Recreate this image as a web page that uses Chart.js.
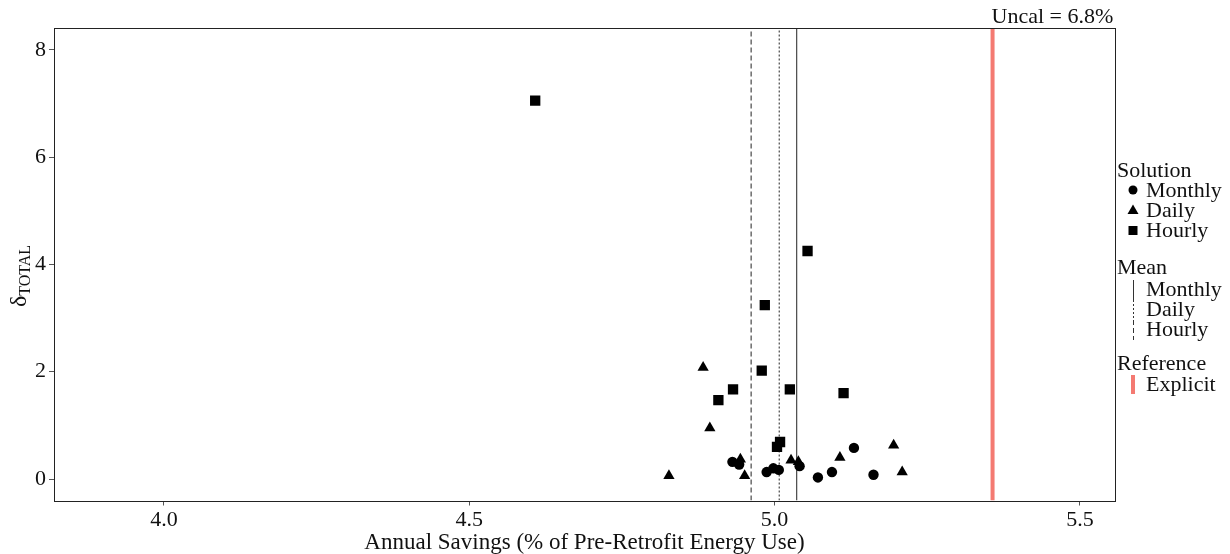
<!DOCTYPE html>
<html>
<head>
<meta charset="utf-8">
<script src="https://cdn.jsdelivr.net/npm/chart.js@4.4.1/dist/chart.umd.min.js"></script>
<style>
  html, body { margin: 0; padding: 0; background: #ffffff; }
  #wrap { width: 1230px; height: 554px; position: relative; }
</style>
</head>
<body>
<div id="wrap"><canvas id="c" width="1230" height="554"></canvas></div>
<script>
// Tick positions
const xTicks = [4.0, 4.5, 5.0, 5.5];
const yTicks = [0, 2, 4, 6, 8];

// Monthly solution: annual savings (%) and delta_TOTAL
const monthlyX = [4.931, 4.942, 4.987, 4.998, 5.007, 5.041, 5.071, 5.094, 5.130, 5.162];
const monthlyY = [0.32, 0.27, 0.13, 0.20, 0.17, 0.24, 0.03, 0.13, 0.58, 0.08];

// Daily solution
const dailyX = [4.827, 4.883, 4.894, 4.944, 4.951, 5.027, 5.039, 5.107, 5.195, 5.209];
const dailyY = [0.06, 2.08, 0.95, 0.37, 0.06, 0.35, 0.32, 0.40, 0.63, 0.13];

// Hourly solution
const hourlyX = [4.608, 5.054, 4.984, 4.979, 4.932, 5.025, 5.113, 4.908, 5.009, 5.004];
const hourlyY = [7.05, 4.25, 3.24, 2.02, 1.67, 1.67, 1.60, 1.47, 0.69, 0.60];

// Reference savings from the explicit model, and the uncalibrated value
const explicitSavings = 5.357;
const uncalText = 'Uncal = 6.8%';

// Axis limits
const xMin = 3.82, xMax = 5.5575;
const yMin = -0.4, yMax = 8.405;

const SERIF = '"Liberation Serif", "Times New Roman", serif';
const RED = '#f47a72';

const mean = a => a.reduce((s, v) => s + v, 0) / a.length;
const toPts = (xs, ys) => xs.map((x, i) => ({ x: x, y: ys[i] }));
const vLine = x => [{ x: x, y: yMin }, { x: x, y: yMax }];

const datasets = [
  { label: 'Monthly', data: toPts(monthlyX, monthlyY), pointStyle: 'circle', pointRadius: 5.2,
    backgroundColor: '#000', borderColor: '#000', borderWidth: 0, order: 1 },
  { label: 'Daily', data: toPts(dailyX, dailyY), pointStyle: 'triangle', pointRadius: 6.5,
    backgroundColor: '#000', borderColor: '#000', borderWidth: 0, order: 1 },
  { label: 'Hourly', data: toPts(hourlyX, hourlyY), pointStyle: 'rect', pointRadius: 7.3,
    backgroundColor: '#000', borderColor: '#000', borderWidth: 0, order: 1 },
  { label: 'Mean Monthly', data: vLine(mean(monthlyX)), showLine: true, pointRadius: 0,
    borderColor: '#222', borderWidth: 1, order: 2 },
  { label: 'Mean Daily', data: vLine(mean(dailyX)), showLine: true, pointRadius: 0,
    borderColor: '#222', borderWidth: 1, borderDash: [2, 2], order: 2 },
  { label: 'Mean Hourly', data: vLine(mean(hourlyX)), showLine: true, pointRadius: 0,
    borderColor: '#222', borderWidth: 1, borderDash: [5, 3], order: 2 },
  { label: 'Explicit', data: vLine(explicitSavings), showLine: true, pointRadius: 0,
    borderColor: RED, borderWidth: 4, order: 2 }
];

// Frame, axis titles, annotation and legend
const decor = {
  id: 'decor',
  afterDraw(chart) {
    const { ctx, chartArea: a } = chart;
    ctx.save();
    ctx.strokeStyle = '#222';
    ctx.lineWidth = 1;
    ctx.strokeRect(Math.round(a.left) + 0.5, Math.round(a.top) + 0.5,
                   Math.round(a.right - a.left), Math.round(a.bottom - a.top));

    ctx.fillStyle = '#111';
    // x axis title
    ctx.font = '23px ' + SERIF;
    ctx.textAlign = 'center';
    ctx.textBaseline = 'middle';
    ctx.fillText('Annual Savings (% of Pre-Retrofit Energy Use)', (a.left + a.right) / 2, 543);

    // y axis title: delta with TOTAL subscript
    ctx.save();
    ctx.translate(21, 276);
    ctx.rotate(-Math.PI / 2);
    ctx.textAlign = 'left';
    ctx.textBaseline = 'alphabetic';
    ctx.font = '24px ' + SERIF;
    const dW = ctx.measureText('\u03b4').width;
    ctx.font = '16px ' + SERIF;
    const sW = ctx.measureText('TOTAL').width;
    const x0 = -(dW + sW) / 2;
    ctx.font = '24px ' + SERIF;
    ctx.fillText('\u03b4', x0, 5);
    ctx.font = '16px ' + SERIF;
    ctx.fillText('TOTAL', x0 + dW, 9);
    ctx.restore();

    // annotation above the reference line
    const xs = chart.scales.x;
    ctx.font = '22px ' + SERIF;
    ctx.textAlign = 'left';
    ctx.textBaseline = 'alphabetic';
    ctx.fillText(uncalText, xs.getPixelForValue(explicitSavings) - 1, a.top - 5);

    // legend
    const tx = 1117, kx = 1133, lx = 1146;
    ctx.textBaseline = 'middle';
    ctx.font = '22px ' + SERIF;
    ctx.fillText('Solution', tx, 171);
    ctx.fillText('Monthly', lx, 191);
    ctx.fillText('Daily', lx, 211);
    ctx.fillText('Hourly', lx, 231);
    ctx.fillText('Mean', tx, 268);
    ctx.fillText('Monthly', lx, 290);
    ctx.fillText('Daily', lx, 310);
    ctx.fillText('Hourly', lx, 330);
    ctx.fillText('Reference', tx, 364);
    ctx.fillText('Explicit', lx, 385);

    ctx.fillStyle = '#000';
    ctx.beginPath(); ctx.arc(kx, 190, 4.5, 0, Math.PI * 2); ctx.fill();
    ctx.beginPath(); ctx.moveTo(kx, 204.5); ctx.lineTo(kx + 5.5, 214); ctx.lineTo(kx - 5.5, 214); ctx.closePath(); ctx.fill();
    ctx.fillRect(kx - 4.5, 226, 9, 9);

    ctx.strokeStyle = '#333';
    ctx.lineWidth = 1;
    ctx.beginPath(); ctx.moveTo(kx + 0.5, 280); ctx.lineTo(kx + 0.5, 300); ctx.stroke();
    ctx.setLineDash([2, 2]);
    ctx.beginPath(); ctx.moveTo(kx + 0.5, 300); ctx.lineTo(kx + 0.5, 320); ctx.stroke();
    ctx.setLineDash([5, 3]);
    ctx.beginPath(); ctx.moveTo(kx + 0.5, 320); ctx.lineTo(kx + 0.5, 340); ctx.stroke();
    ctx.setLineDash([]);

    ctx.fillStyle = RED;
    ctx.fillRect(kx - 2, 375, 4, 19);
    ctx.restore();
  }
};

new Chart(document.getElementById('c'), {
  type: 'scatter',
  data: { datasets: datasets },
  plugins: [decor],
  options: {
    responsive: false,
    animation: false,
    events: [],
    layout: { padding: { top: 28, right: 115, left: 0, bottom: 0 } },
    plugins: { legend: { display: false }, tooltip: { enabled: false } },
    scales: {
      x: {
        type: 'linear', min: xMin, max: xMax,
        afterBuildTicks: s => { s.ticks = xTicks.map(v => ({ value: v })); },
        afterFit: s => { s.height = 53.5; },
        grid: { display: true, drawOnChartArea: false, drawTicks: true, tickLength: 5, color: '#555' },
        border: { display: false },
        ticks: { color: '#111', font: { family: SERIF, size: 22 }, padding: 2,
                 maxRotation: 0, callback: v => Number(v).toFixed(1) }
      },
      y: {
        type: 'linear', min: yMin, max: yMax,
        afterBuildTicks: s => { s.ticks = yTicks.map(v => ({ value: v })); },
        afterFit: s => { s.width = 54; },
        grid: { display: true, drawOnChartArea: false, drawTicks: true, tickLength: 5, color: '#555' },
        border: { display: false },
        ticks: { color: '#111', font: { family: SERIF, size: 22 }, padding: 3,
                 callback: v => String(v) }
      }
    }
  }
});
</script>
</body>
</html>
